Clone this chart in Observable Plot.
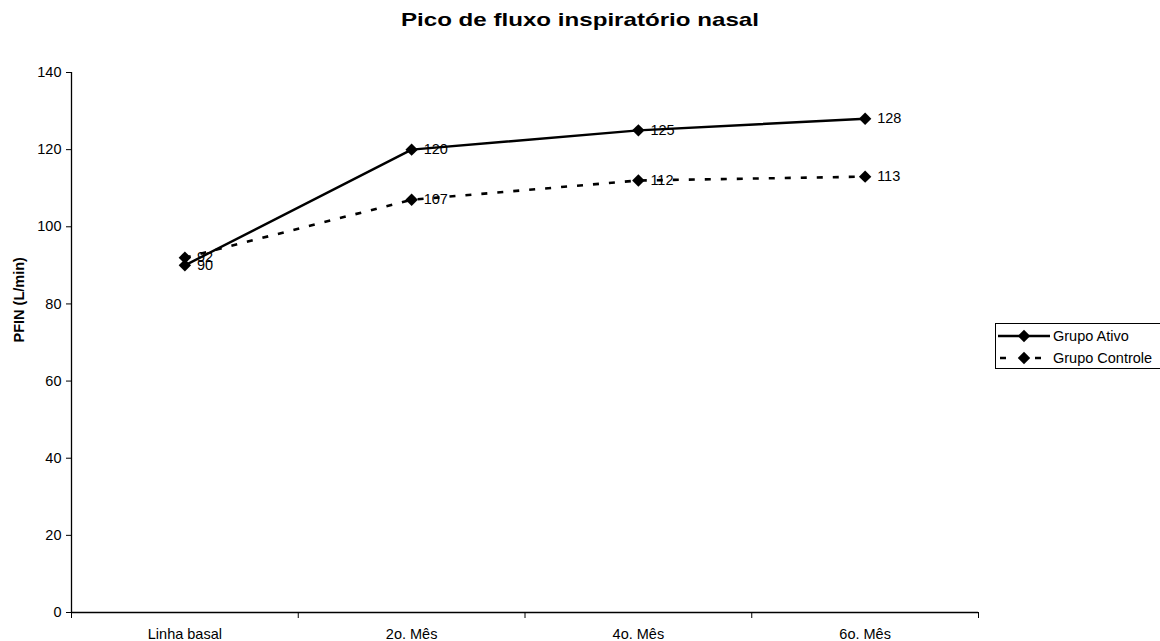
<!DOCTYPE html>
<html>
<head>
<meta charset="utf-8">
<script src="https://cdn.jsdelivr.net/npm/d3@7"></script>
<script src="https://cdn.jsdelivr.net/npm/@observablehq/plot@0.6"></script>
<style>
  html, body { margin: 0; padding: 0; background: #fff; }
  #wrap { position: relative; width: 1160px; height: 641px; overflow: hidden; font-family: "Liberation Sans", Arial, sans-serif; }
  #title { position: relative; height: 40px; display: flex; justify-content: center; }
  #title span { font-weight: bold; font-size: 19px; line-height: 19px; margin-top: 10px; display: inline-block; transform: scaleX(1.27); transform-origin: center; color: #000; white-space: nowrap; }
  #legend { position: absolute; left: 995px; top: 323px; }
</style>
</head>
<body>
<div id="wrap">
  <div id="title"><span>Pico de fluxo inspiratório nasal</span></div>
  <div id="chart"></div>
  <svg id="legend" width="166" height="47"></svg>
</div>
<script>
const categories = ["Linha basal", "2o. Mês", "4o. Mês", "6o. Mês"];
const ativo = [90, 120, 125, 128];
const controle = [92, 107, 112, 113];
const seriesNames = ["Grupo Ativo", "Grupo Controle"];
const yTicks = [0, 20, 40, 60, 80, 100, 120, 140];
const yLabel = "PFIN (L/min)";

const rows = [];
categories.forEach((c, i) => {
  rows.push({series: seriesNames[0], i: i + 0.5, cat: c, v: ativo[i]});
  rows.push({series: seriesNames[1], i: i + 0.5, cat: c, v: controle[i]});
});
const rA = rows.filter(d => d.series === seriesNames[0]);
const rC = rows.filter(d => d.series === seriesNames[1]);
const font = "'Liberation Sans', Arial, sans-serif";
const dash = "6,10";

const chart = Plot.plot({
  width: 1160,
  height: 601,
  marginLeft: 71,
  marginRight: 182,
  marginTop: 32,
  marginBottom: 29,
  style: {fontFamily: font, fontSize: "14.5px", color: "#000", background: "#fff", overflow: "visible"},
  x: {type: "linear", domain: [0, categories.length]},
  y: {domain: [0, 140]},
  marks: [
    Plot.axisY({ticks: yTicks, tickSize: 5, tickPadding: 5, label: null, fontSize: 14.5}),
    Plot.axisX({ticks: d3.range(categories.length + 1), tickSize: 6, tickFormat: () => "", label: null}),
    Plot.axisX({ticks: categories.map((c, i) => i + 0.5), tickSize: 0, tickPadding: 16, tickFormat: d => categories[Math.round(d - 0.5)], label: null, fontSize: 14.5}),
    Plot.ruleX([0], {stroke: "#000", strokeWidth: 1.3}),
    Plot.ruleY([0], {stroke: "#000", strokeWidth: 1.3}),
    Plot.text([yLabel], {frameAnchor: "left", dx: -52, rotate: -90, fontWeight: "bold", fontSize: 14.5, fill: "#000"}),
    Plot.lineY(rC, {x: "i", y: "v", stroke: "#000", strokeWidth: 2.6, strokeDasharray: dash, strokeLinecap: "butt"}),
    Plot.lineY(rA, {x: "i", y: "v", stroke: "#000", strokeWidth: 2.4}),
    Plot.dot(rows, {x: "i", y: "v", symbol: "diamond2", r: 5.6, fill: "#000", stroke: "none"}),
    Plot.text(rows, {x: "i", y: "v", text: d => String(d.v), dx: 12, textAnchor: "start", fontSize: 14.5, fill: "#000"})
  ]
});
document.getElementById("chart").appendChild(chart);

// Legend
const leg = d3.select("#legend");
leg.append("rect").attr("x", 0.5).attr("y", 0.5).attr("width", 170).attr("height", 45).attr("fill", "#fff").attr("stroke", "#000").attr("stroke-width", 1);
const dia = d3.symbol(d3.symbolDiamond2, Math.PI * 5.6 * 5.6)();
seriesNames.forEach((name, k) => {
  const y = 13 + k * 22;
  leg.append("line").attr("x1", k === 1 ? 5 : 3).attr("x2", 55).attr("y1", y).attr("y2", y)
    .attr("stroke", "#000").attr("stroke-width", k === 1 ? 2.6 : 2.4)
    .attr("stroke-dasharray", k === 1 ? "6,29" : null);
  leg.append("path").attr("d", dia).attr("transform", `translate(29,${y})`).attr("fill", "#000");
  leg.append("text").attr("x", 58).attr("y", y).attr("dy", "0.35em")
    .attr("font-family", font).attr("font-size", 14.5).attr("fill", "#000").text(name);
});
</script>
</body>
</html>
